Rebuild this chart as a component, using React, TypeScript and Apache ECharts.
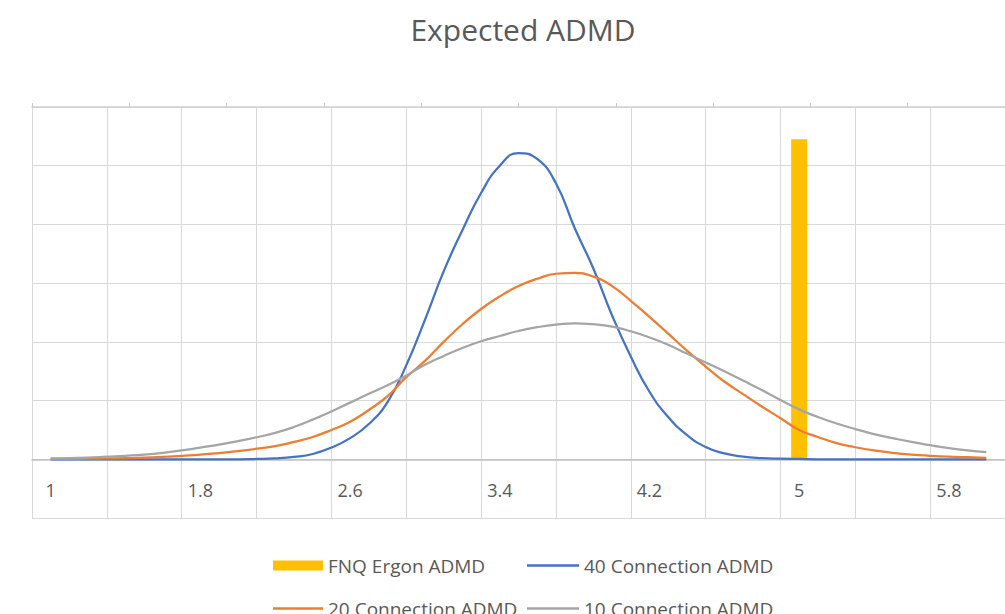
import React, { useEffect, useRef } from "react";
import * as echarts from "echarts";

// Category axis (labels and gridlines), step 0.2
const categories = [1, 1.2, 1.4, 1.6, 1.8, 2, 2.2, 2.4, 2.6, 2.8, 3, 3.2, 3.4, 3.6, 3.8, 4, 4.2, 4.4, 4.6, 4.8, 5, 5.2, 5.4, 5.6, 5.8, 6];

const fnqCategory = 5;
const fnqValue = 1.09;

// Curve sample positions, step 0.1
const lineX = [
  1, 1.1, 1.2, 1.3, 1.4, 1.5, 1.6, 1.7, 1.8, 1.9,
  2, 2.1, 2.2, 2.3, 2.4, 2.5, 2.6, 2.7, 2.8, 2.9,
  3, 3.1, 3.2, 3.3, 3.4, 3.5, 3.6, 3.7, 3.8, 3.9,
  4, 4.1, 4.2, 4.3, 4.4, 4.5, 4.6, 4.7, 4.8, 4.9,
  5, 5.1, 5.2, 5.3, 5.4, 5.5, 5.6, 5.7, 5.8, 5.9, 6,
];

const conn40 = [
  0, 0, 0, 0, 0, 0, 0, 0, 0, 0,
  0, 0.001, 0.003, 0.008, 0.018, 0.04, 0.072, 0.12, 0.195, 0.32,
  0.475, 0.64, 0.78, 0.907, 1.0, 1.043, 1.023, 0.94, 0.788, 0.65,
  0.49, 0.35, 0.23, 0.144, 0.083, 0.042, 0.02, 0.009, 0.004, 0.002,
  0.001, 0, 0, 0, 0, 0, 0, 0, 0, 0, 0,
];

const conn20 = [
  0.001, 0.001, 0.002, 0.003, 0.004, 0.006, 0.008, 0.012, 0.016, 0.021,
  0.028, 0.036, 0.045, 0.059, 0.076, 0.1, 0.128, 0.168, 0.215, 0.28,
  0.335, 0.4, 0.46, 0.512, 0.555, 0.59, 0.615, 0.632, 0.635, 0.622,
  0.59, 0.54, 0.485, 0.428, 0.37, 0.316, 0.265, 0.222, 0.18, 0.14,
  0.1, 0.076, 0.055, 0.041, 0.03, 0.022, 0.016, 0.012, 0.009, 0.007, 0.005,
];

const conn10 = [
  0.003, 0.004, 0.006, 0.009, 0.012, 0.016, 0.022, 0.03, 0.04, 0.05,
  0.062, 0.075, 0.09, 0.11, 0.135, 0.163, 0.193, 0.223, 0.252, 0.285,
  0.322, 0.352, 0.379, 0.402, 0.42, 0.437, 0.45, 0.459, 0.463, 0.46,
  0.452, 0.436, 0.415, 0.39, 0.36, 0.33, 0.3, 0.268, 0.236, 0.202,
  0.17, 0.144, 0.122, 0.103, 0.086, 0.072, 0.059, 0.048, 0.038, 0.03, 0.024,
];

const topAxisSlots = ["", "", "", "", "", "", "", "", "", ""];

const FONT = "'Open Sans', sans-serif";
const TEXT = "#595959";

export default function App() {
  const ref = useRef<HTMLDivElement>(null);
  useEffect(() => {
    if (!ref.current) return;
    const chart = echarts.init(ref.current, null, { renderer: "svg" });
    const fnqData = categories.map((c) => (c === fnqCategory ? fnqValue : null));
    const pairs = (ys: number[]) => lineX.map((x, i) => [x, ys[i]]);
    const legendText = { color: TEXT, fontSize: 19, fontFamily: FONT };
    const lineSeries = (name: string, ys: number[], color: string) => ({
      name,
      type: "line",
      xAxisIndex: 2,
      data: pairs(ys),
      smooth: 0.5,
      symbol: "none",
      lineStyle: { color, width: 2.25 },
      itemStyle: { color },
    });
    chart.setOption({
      animation: false,
      backgroundColor: "#ffffff",
      title: {
        text: "Expected ADMD",
        left: 518,
        top: 9,
        textAlign: "center",
        textStyle: { color: TEXT, fontSize: 30, fontWeight: "normal", fontFamily: FONT },
      },
      grid: { left: 32, right: -2, top: 107, bottom: 96 },
      xAxis: [
        {
          type: "category",
          data: categories.map((c) => String(c)),
          boundaryGap: true,
          axisLine: { show: true, onZero: true, lineStyle: { color: "#bfbfbf", width: 1.5 } },
          axisTick: { show: false },
          axisLabel: { interval: 3, color: TEXT, fontSize: 18, fontFamily: FONT, margin: -37 },
          splitLine: { show: true, interval: 1, lineStyle: { color: "#d9d9d9", width: 1 } },
        },
        {
          type: "category",
          position: "top",
          data: topAxisSlots,
          axisLine: { show: true, onZero: false, lineStyle: { color: "#d0d0d0", width: 1.5 } },
          axisTick: { show: true, length: 4, lineStyle: { color: "#c8c8c8" } },
          axisLabel: { show: false },
          splitLine: { show: false },
        },
        {
          type: "value",
          min: 0.9,
          max: 6.1,
          show: false,
          splitLine: { show: false },
        },
      ],
      yAxis: {
        type: "value",
        min: -0.2,
        max: 1.2,
        interval: 0.2,
        axisLine: { show: false },
        axisTick: { show: false },
        axisLabel: { show: false },
        splitLine: { show: true, lineStyle: { color: "#d9d9d9", width: 1 } },
      },
      legend: [
        { data: [{ name: "FNQ Ergon ADMD", icon: "rect" }], left: 273, top: 556, padding: 0, itemWidth: 50, itemHeight: 10, textStyle: legendText },
        { data: [{ name: "40 Connection ADMD", icon: "rect" }], left: 527, top: 556, padding: 0, itemWidth: 52, itemHeight: 2.5, textStyle: legendText },
        { data: [{ name: "20 Connection ADMD", icon: "rect" }], left: 273, top: 599, padding: 0, itemWidth: 50, itemHeight: 2.5, textStyle: legendText },
        { data: [{ name: "10 Connection ADMD", icon: "rect" }], left: 527, top: 599, padding: 0, itemWidth: 52, itemHeight: 2.5, textStyle: legendText },
      ],
      series: [
        {
          name: "FNQ Ergon ADMD",
          type: "bar",
          data: fnqData,
          barWidth: 16,
          itemStyle: { color: "#FFC000" },
        },
        lineSeries("40 Connection ADMD", conn40, "#4472C4"),
        lineSeries("20 Connection ADMD", conn20, "#ED7D31"),
        lineSeries("10 Connection ADMD", conn10, "#A5A5A5"),
      ],
    });
    return () => chart.dispose();
  }, []);
  return (
    <div
      ref={ref}
      style={{ position: "absolute", left: 0, top: 0, width: 1005, height: 614, background: "#fff" }}
    />
  );
}
